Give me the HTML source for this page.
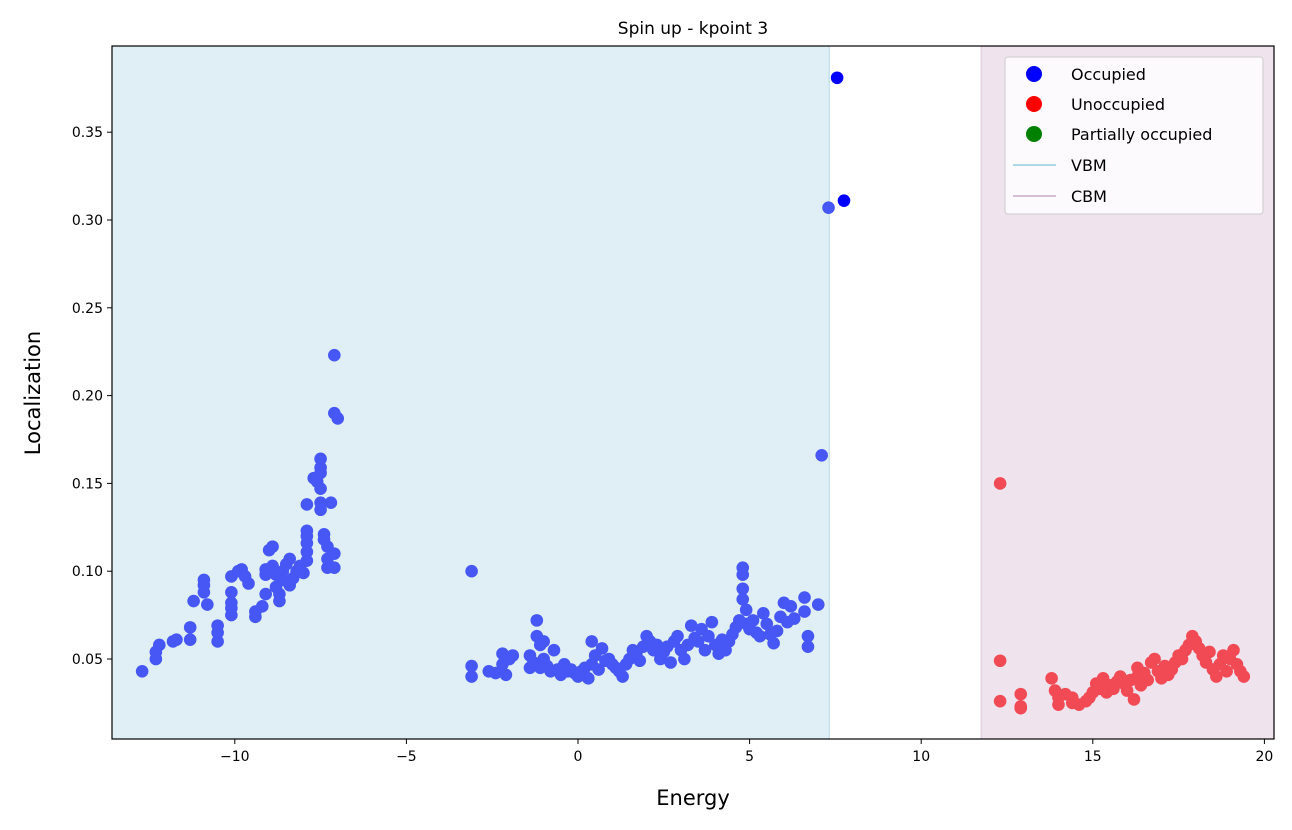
<!DOCTYPE html>
<html><head><meta charset="utf-8"><style>
body{margin:0;background:#fff;font-family:"Liberation Sans","DejaVu Sans",sans-serif;}
svg text{font-family:"DejaVu Sans","Liberation Sans",sans-serif;}
</style></head><body>
<svg id="chart" width="1292" height="825" xmlns="http://www.w3.org/2000/svg">
<rect width="1292" height="825" fill="#fff"/>
<g id="bands"></g>
<g id="pts"></g>
<rect x="112" y="46" width="1162" height="693" fill="none" stroke="#000" stroke-width="1.2"/>
<g id="axes" font-size="14"></g>
<text x="693" y="34" text-anchor="middle" font-size="17">Spin up - kpoint 3</text>
<text x="693" y="805" text-anchor="middle" font-size="21">Energy</text>
<text transform="translate(40,393) rotate(-90)" text-anchor="middle" font-size="21">Localization</text>
<g>
<rect x="1005" y="57" width="258" height="157" rx="3" fill="#fff" fill-opacity="0.8" stroke="#ccc"/>
<g><circle cx="1034" cy="74" r="8" fill="#0000ff"/><text x="1071" y="80" font-size="16">Occupied</text></g>
<g><circle cx="1034" cy="104" r="8" fill="#ff0000"/><text x="1071" y="110" font-size="16">Unoccupied</text></g>
<g><circle cx="1034" cy="134" r="8" fill="#008000"/><text x="1071" y="140" font-size="16">Partially occupied</text></g>
<g><line x1="1013" x2="1056" y1="165" y2="165" stroke="#add8e6" stroke-width="2"/><text x="1071" y="171" font-size="16">VBM</text></g>
<g><line x1="1013" x2="1056" y1="196" y2="196" stroke="#d8bfd8" stroke-width="2"/><text x="1071" y="202" font-size="16">CBM</text></g>
</g>
</svg>
<script>
const xTicks=[-10,-5,0,5,10,15,20];
const yTicks=[0.05,0.10,0.15,0.20,0.25,0.30,0.35];
const vbm=7.32, cbm=11.75;
const occE=[-12.7,-12.3,-12.3,-12.2,-11.8,-11.7,-11.3,-11.3,-11.2,-10.9,-10.9,-10.9,-10.8,-10.5,-10.5,-10.5,-10.1,-10.1,-10.1,-10.1,-10.1,-9.9,-9.8,-9.7,-9.6,-9.4,-9.4,-9.2,-9.1,-9.1,-9.1,-9.0,-8.9,-8.9,-8.8,-8.8,-8.7,-8.7,-8.6,-8.6,-8.5,-8.4,-8.4,-8.3,-8.2,-8.1,-8.0,-7.9,-7.9,-7.9,-7.9,-7.9,-7.9,-7.7,-7.6,-7.5,-7.5,-7.5,-7.5,-7.5,-7.5,-7.4,-7.4,-7.3,-7.3,-7.3,-7.2,-7.1,-7.1,-7.1,-7.0,-7.1,
-3.1,-3.1,-3.1,-2.6,-2.4,-2.2,-2.2,-2.1,-2.0,-1.9,
-1.4,-1.4,-1.3,-1.2,-1.2,-1.1,-1.1,-1.0,-1.0,-0.9,
-0.8,-0.7,-0.6,-0.5,-0.4,-0.3,-0.2,-0.1,0.0,0.1,
0.2,0.3,0.4,0.4,0.5,0.6,0.7,0.8,0.9,1.0,
1.1,1.2,1.3,1.4,1.5,1.6,1.7,1.8,1.9,2.0,
2.1,2.2,2.3,2.4,2.5,2.6,2.7,2.8,2.9,3.0,
3.1,3.2,3.3,3.4,3.5,3.6,3.7,3.8,3.9,4.0,
4.1,4.2,4.3,4.4,4.5,4.6,4.7,4.8,4.8,4.8,
4.8,4.9,4.9,5.0,5.1,5.2,5.3,5.4,5.5,5.6,
5.7,5.8,5.9,6.0,6.1,6.2,6.3,6.6,6.6,6.7,
6.7,7.0,7.1,7.3,7.55,7.75];
const occL=[0.043,0.05,0.054,0.058,0.06,0.061,0.061,0.068,0.083,0.088,0.092,0.095,0.081,0.06,0.065,0.069,0.075,0.079,0.082,0.088,0.097,0.1,0.101,0.097,0.093,0.074,0.077,0.08,0.087,0.098,0.101,0.112,0.114,0.103,0.098,0.091,0.087,0.083,0.1,0.095,0.104,0.107,0.092,0.096,0.1,0.103,0.099,0.106,0.111,0.116,0.12,0.123,0.138,0.153,0.151,0.147,0.139,0.135,0.156,0.159,0.164,0.121,0.118,0.114,0.107,0.102,0.139,0.102,0.11,0.19,0.187,0.223,
0.1,0.046,0.04,0.043,0.042,0.047,0.053,0.041,0.05,0.052,
0.052,0.045,0.048,0.072,0.063,0.058,0.045,0.06,0.05,0.046,
0.043,0.055,0.044,0.041,0.047,0.043,0.044,0.042,0.04,0.043,
0.045,0.039,0.06,0.047,0.052,0.044,0.056,0.049,0.05,0.047,
0.045,0.043,0.04,0.047,0.05,0.055,0.053,0.049,0.057,0.063,
0.06,0.055,0.058,0.05,0.054,0.057,0.048,0.06,0.063,0.055,
0.05,0.058,0.069,0.062,0.06,0.067,0.055,0.063,0.071,0.058,
0.053,0.061,0.055,0.06,0.064,0.068,0.072,0.102,0.098,0.09,
0.084,0.078,0.07,0.067,0.072,0.065,0.063,0.076,0.07,0.064,
0.059,0.066,0.074,0.082,0.071,0.08,0.073,0.085,0.077,0.063,
0.057,0.081,0.166,0.307,0.381,0.311];
const unE=[12.3,12.3,12.3,12.9,12.9,12.9,13.8,13.9,14.0,14.0,14.2,14.4,14.4,14.6,14.8,14.9,15.0,15.1,15.2,15.3,15.4,15.5,15.6,15.7,15.8,15.9,16.0,16.1,16.2,16.3,16.3,16.4,16.5,16.6,16.7,16.8,16.9,17.0,17.1,17.2,17.3,17.4,17.5,17.6,17.7,17.8,17.9,18.0,18.1,18.2,18.3,18.4,18.5,18.6,18.7,18.8,18.9,19.0,19.1,19.2,19.3,19.4];
const unL=[0.15,0.049,0.026,0.03,0.022,0.023,0.039,0.032,0.024,0.028,0.03,0.025,0.028,0.024,0.026,0.028,0.031,0.036,0.033,0.039,0.031,0.035,0.033,0.037,0.04,0.036,0.032,0.038,0.027,0.045,0.04,0.035,0.042,0.038,0.048,0.05,0.043,0.039,0.046,0.041,0.044,0.048,0.052,0.05,0.055,0.058,0.063,0.06,0.056,0.052,0.048,0.054,0.044,0.04,0.047,0.052,0.043,0.05,0.055,0.047,0.043,0.04];
const L=112,R=1274,T=46,B=739;
const X=e=>578+e*34.32;
const Y=v=>659-(v-0.05)*1756;
const NS="http://www.w3.org/2000/svg";
function mk(tag,attrs,parent){const el=document.createElementNS(NS,tag);for(const k in attrs)el.setAttribute(k,attrs[k]);parent.appendChild(el);return el;}
const bands=document.getElementById('bands');
let b1=mk('rect',{x:L,y:T,width:X(vbm)-L,height:B-T,fill:'#dfeff5'},bands);


let b2=mk('rect',{x:X(cbm),y:T,width:R-X(cbm),height:B-T,fill:'#efe3ee'},bands);


mk('line',{x1:X(vbm),x2:X(vbm),y1:T,y2:B,stroke:'#c9e3ee','stroke-width':1.5},bands);
mk('line',{x1:X(cbm),x2:X(cbm),y1:T,y2:B,stroke:'#e4d3e3','stroke-width':1.5},bands);
const pts=document.getElementById('pts');
occE.forEach((e,i)=>{const c=mk('circle',{cx:X(e),cy:Y(occL[i]),r:6.3,fill:e>vbm?'#0000ff':'#4757f5'},pts);

});
unE.forEach((e,i)=>{const c=mk('circle',{cx:X(e),cy:Y(unL[i]),r:6.3,fill:'#f24a55'},pts);

});
const ax=document.getElementById('axes');
xTicks.forEach(t=>{mk('line',{x1:X(t),x2:X(t),y1:B,y2:B+5,stroke:'#000'},ax);
const tx=mk('text',{x:X(t),y:B+22,'text-anchor':'middle'},ax);tx.textContent=(t<0?'−'+(-t):t);

});
yTicks.forEach(t=>{mk('line',{x1:L-5,x2:L,y1:Y(t),y2:Y(t),stroke:'#000'},ax);
const tx=mk('text',{x:L-9,y:Y(t)+5,'text-anchor':'end'},ax);tx.textContent=t.toFixed(2);

});
</script>
</body></html>
